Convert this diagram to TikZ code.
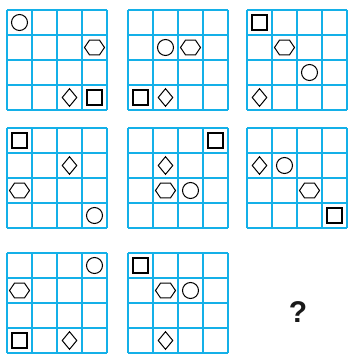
\documentclass[tikz,border=0pt]{standalone}
\usepackage{fontspec}
\setsansfont{Liberation Sans}
\usetikzlibrary{shapes.geometric}
\definecolor{gridblue}{RGB}{20,176,232}

\begin{document}
\begin{tikzpicture}[
    x=1pt, y=-1pt,
    gridline/.style={draw=gridblue, line width=2pt},
    ring/.style={circle, draw, line width=1pt, inner sep=0pt, minimum size=16pt},
    hexa/.style={regular polygon, regular polygon sides=6, draw, line width=1pt, inner sep=0pt, minimum size=20pt, yscale=0.85},
    rhomb/.style={diamond, draw, line width=1pt, inner sep=0pt, minimum width=15pt, minimum height=18pt},
    sqbox/.style={rectangle, draw, line width=1.3pt, inner sep=0pt, minimum size=15pt}
]
    \useasboundingbox (0,0) rectangle (349,354);

    % Gitter
    \foreach \gx/\gy in {7/10, 128/10, 247/10, 7/128, 128/128, 247/128, 7/253, 128/253}
        \foreach \k in {0,...,4} {
            \draw[gridline] (\gx+25*\k,\gy) -- (\gx+25*\k,\gy+100);
            \draw[gridline] (\gx,\gy+25*\k) -- (\gx+100,\gy+25*\k);
        };

    % Bild 1
    \node[ring] (c1) at (7+12.5,10+12.5) {};
    \node[hexa] (h1) at (7+87.5,10+37.5) {};
    \node[rhomb] (d1) at (7+62.5,10+87.5) {};
    \node[sqbox] (s1) at (7+87.5,10+87.5) {};

    % Bild 2
    \node[ring] (c2) at (128+37.5,10+37.5) {};
    \node[hexa] (h2) at (128+62.5,10+37.5) {};
    \node[sqbox] (s2) at (128+12.5,10+87.5) {};
    \node[rhomb] (d2) at (128+37.5,10+87.5) {};

    % Bild 3
    \node[sqbox] (s3) at (247+12.5,10+12.5) {};
    \node[hexa] (h3) at (247+37.5,10+37.5) {};
    \node[ring] (c3) at (247+62.5,10+62.5) {};
    \node[rhomb] (d3) at (247+12.5,10+87.5) {};

    % Bild 4
    \node[sqbox] (s4) at (7+12.5,128+12.5) {};
    \node[rhomb] (d4) at (7+62.5,128+37.5) {};
    \node[hexa] (h4) at (7+12.5,128+62.5) {};
    \node[ring] (c4) at (7+87.5,128+87.5) {};

    % Bild 5
    \node[sqbox] (s5) at (128+87.5,128+12.5) {};
    \node[rhomb] (d5) at (128+37.5,128+37.5) {};
    \node[hexa] (h5) at (128+37.5,128+62.5) {};
    \node[ring] (c5) at (128+62.5,128+62.5) {};

    % Bild 6
    \node[rhomb] (d6) at (247+12.5,128+37.5) {};
    \node[ring] (c6) at (247+37.5,128+37.5) {};
    \node[hexa] (h6) at (247+62.5,128+62.5) {};
    \node[sqbox] (s6) at (247+87.5,128+87.5) {};

    % Bild 7
    \node[ring] (c7) at (7+87.5,253+12.5) {};
    \node[hexa] (h7) at (7+12.5,253+37.5) {};
    \node[sqbox] (s7) at (7+12.5,253+87.5) {};
    \node[rhomb] (d7) at (7+62.5,253+87.5) {};

    % Bild 8
    \node[sqbox] (s8) at (128+12.5,253+12.5) {};
    \node[hexa] (h8) at (128+37.5,253+37.5) {};
    \node[ring] (c8) at (128+62.5,253+37.5) {};
    \node[rhomb] (d8) at (128+37.5,253+87.5) {};

    % Frage
    \node[font=\sffamily\bfseries\fontsize{30}{30}\selectfont, text=black!90] (q) at (298,312) {?};
\end{tikzpicture}
\end{document}
